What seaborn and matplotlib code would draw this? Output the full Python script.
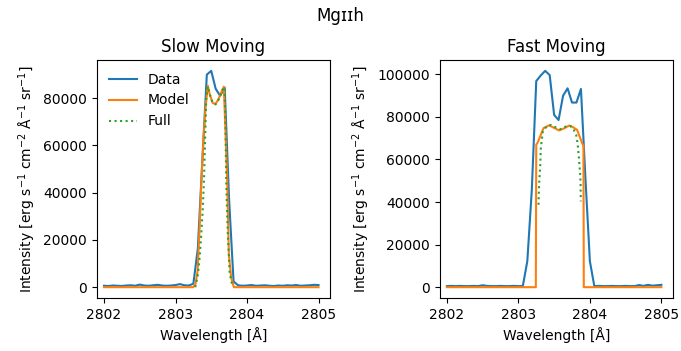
import numpy as np
import matplotlib
matplotlib.use("Agg")
import matplotlib.pyplot as plt
import seaborn as sns

# ---------------- data ----------------
wavelength = [2802.000, 2802.062, 2802.125, 2802.188, 2802.250, 2802.312, 2802.375,
              2802.438, 2802.500, 2802.562, 2802.625, 2802.688, 2802.750, 2802.812,
              2802.875, 2802.938, 2803.000, 2803.062, 2803.125, 2803.188, 2803.250,
              2803.312, 2803.375, 2803.438, 2803.500, 2803.562, 2803.625, 2803.688,
              2803.750, 2803.812, 2803.875, 2803.938, 2804.000, 2804.062, 2804.125,
              2804.188, 2804.250, 2804.312, 2804.375, 2804.438, 2804.500, 2804.562,
              2804.625, 2804.688, 2804.750, 2804.812, 2804.875, 2804.938, 2805.000]

slow_data = [600, 500, 700, 600, 500, 700, 800, 600, 1100, 700, 600, 800, 1000, 700,
             600, 700, 900, 1300, 800, 700, 1500, 16300, 53400, 90000, 91600, 84000,
             81000, 84500, 36800, 2400, 800, 600, 700, 900, 600, 700, 800, 600, 500,
             700, 600, 800, 700, 900, 600, 700, 800, 1000, 900]

fast_data = [500, 600, 500, 600, 500, 500, 600, 500, 900, 600, 500, 500, 600, 500,
             500, 600, 500, 500, 12200, 45800, 96800, 99400, 101600, 99600, 80900,
             78500, 89900, 93400, 86700, 86700, 93100, 51000, 12200, 500, 600, 500,
             500, 600, 500, 500, 600, 500, 500, 1000, 600, 1100, 700, 900, 1100]

slow_model_wl = [2802.000, 2803.250, 2803.281, 2803.309, 2803.337, 2803.365, 2803.392,
                 2803.420, 2803.452, 2803.480, 2803.520, 2803.560, 2803.600, 2803.640,
                 2803.676, 2803.700, 2803.723, 2803.746, 2803.779, 2803.816, 2805.000]
slow_model = [0, 0, 1500, 7000, 25000, 47000, 63000, 76000, 85300, 81500, 78000, 77600,
              79500, 82500, 84900, 65000, 45000, 14000, 4000, 0, 0]

slow_full_wl = [2803.277, 2803.313, 2803.337, 2803.360, 2803.383, 2803.400, 2803.415,
                2803.430, 2803.450, 2803.480, 2803.520, 2803.560, 2803.600, 2803.640,
                2803.676, 2803.685, 2803.700, 2803.709, 2803.723, 2803.732, 2803.746,
                2803.756, 2803.779, 2803.802]
slow_full = [0, 5300, 12500, 22200, 34000, 47000, 64000, 80000, 85000, 81500, 78000,
             77400, 79300, 82300, 84700, 84600, 67800, 45300, 30600, 22200, 13800,
             6700, 2500, 400]

fast_model_wl = [2802.000, 2803.244, 2803.250, 2803.268, 2803.352, 2803.430, 2803.500,
                 2803.570, 2803.640, 2803.710, 2803.760, 2803.821, 2803.892, 2803.910,
                 2803.915, 2805.000]
fast_model = [0, 0, 67000, 67800, 74700, 76000, 74800, 73600, 74600, 75900, 75200,
              73900, 67600, 66500, 0, 0]

fast_full_wl = [2803.282, 2803.286, 2803.292, 2803.306, 2803.314, 2803.328, 2803.342,
                2803.399, 2803.461, 2803.530, 2803.587, 2803.658, 2803.728, 2803.775,
                2803.808, 2803.821, 2803.835, 2803.845, 2803.854, 2803.863, 2803.869,
                2803.873]
fast_full = [38700, 44400, 49600, 57500, 65300, 69200, 73100, 75700, 76200, 74900,
             74200, 75400, 75700, 73900, 71500, 69200, 65300, 61400, 57500, 53600,
             49600, 40300]

titles = ["Slow Moving", "Fast Moving"]
suptitle = "Mg\u026a\u026ah"
xlabel = "Wavelength [\u00c5]"
ylabel = "Intensity [erg s$^{-1}$ cm$^{-2}$ \u00c5$^{-1}$ sr$^{-1}$]"

# ---------------- plot ----------------
fig, axes = plt.subplots(1, 2, figsize=(6.81, 3.51), dpi=100)
fig.subplots_adjust(left=0.142, right=0.988, bottom=0.151, top=0.829, wspace=0.47)

panels = [
    (slow_data, slow_model_wl, slow_model, slow_full_wl, slow_full),
    (fast_data, fast_model_wl, fast_model, fast_full_wl, fast_full),
]

for ax, title, (dat, mwl, mod, fwl, ful) in zip(axes, titles, panels):
    sns.lineplot(x=wavelength, y=dat, ax=ax, color="C0", label="Data",
                 estimator=None, sort=False, linewidth=1.5)
    sns.lineplot(x=mwl, y=mod, ax=ax, color="C1", label="Model",
                 estimator=None, sort=False, linewidth=1.5)
    sns.lineplot(x=fwl, y=ful, ax=ax, color="C2", label="Full",
                 estimator=None, sort=False, linewidth=1.5, linestyle=":")
    ax.set_title(title, fontsize=12)
    ax.set_xlabel(xlabel, fontsize=10)
    ax.set_ylabel(ylabel, fontsize=10)
    ax.set_xticks([2802, 2803, 2804, 2805])
    ax.set_xlim(2801.898, 2805.16)

axes[0].legend(loc="upper left", frameon=False, fontsize=10)
axes[1].get_legend().remove()

fig.suptitle(suptitle, fontsize=12)
fig.savefig("out.png", dpi=100)
